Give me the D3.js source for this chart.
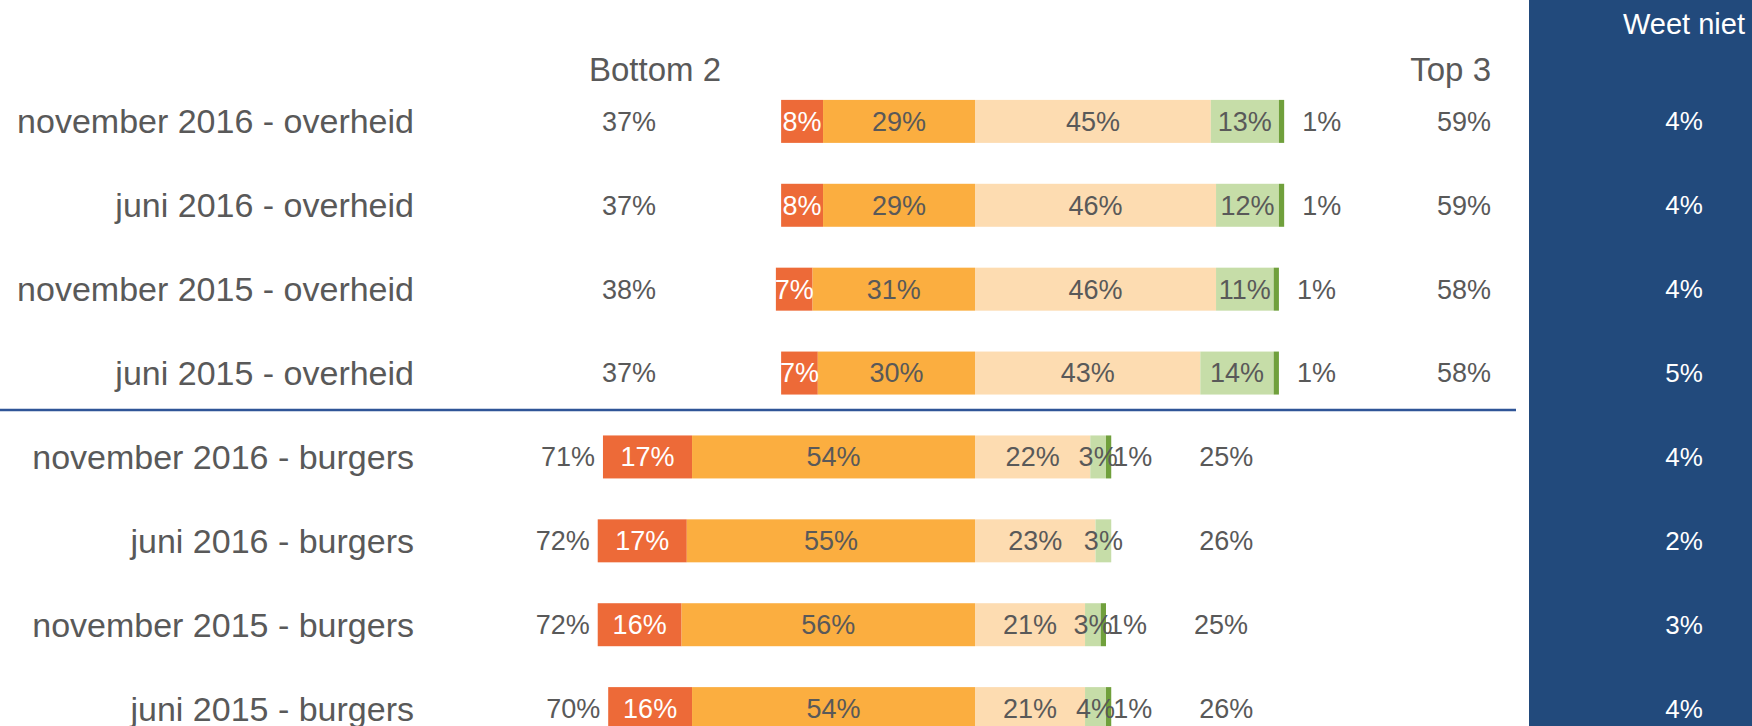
<!DOCTYPE html>
<html lang="nl">
<head>
    <meta charset="UTF-8">
    <title>Bottom 2 / Top 3</title>
    <script src="https://d3js.org/d3.v7.min.js"></script>
    <style>
        body { margin: 0; background: #fff; overflow: hidden; }
        text { font-family: "Liberation Sans", Arial, sans-serif; }
    </style>
</head>
<body>

<script>

    // Data ////////////////////////////////////
    var categories = [
        'november 2016 - overheid',
        'juni 2016 - overheid',
        'november 2015 - overheid',
        'juni 2015 - overheid',
        'november 2016 - burgers',
        'juni 2016 - burgers',
        'november 2015 - burgers',
        'juni 2015 - burgers'
    ];
    var score1 = [8, 8, 7, 7, 17, 17, 16, 16];
    var score2 = [29, 29, 31, 30, 54, 55, 56, 54];
    var score3 = [45, 46, 46, 43, 22, 23, 21, 21];
    var score4 = [13, 12, 11, 14, 3, 3, 3, 4];
    var score5 = [1, 1, 1, 1, 1, 0, 1, 1];
    var bottom2 = [37, 37, 38, 37, 71, 72, 72, 70];
    var top3 = [59, 59, 58, 58, 25, 26, 25, 26];
    var weetNiet = [4, 4, 4, 5, 4, 2, 3, 4];

    var seriesColors = ['#ed6a38', '#fbae40', '#fddcb1', '#c6dda8', '#70a03c'];
    var textGray = '#595959';

    //________________________________________________
    // DOM preparation
    //________________________________________________
    var width = 1752;
    var height = 726;

    var svg = d3.select('body').append('svg')
            .attr('width', width)
            .attr('height', height);

    var x = d3.scaleLinear().domain([-100, 100]).range([451, 1499]);
    var y = d3.scaleBand().domain(categories).range([59, 771])
            .paddingInner(0.4875).paddingOuter(0.4875);
    var bandH = y.bandwidth();

    // one record per row, with stacked segments around the 0 line
    var rows = categories.map(function (c, i) {
        var vals = [score1[i], score2[i], score3[i], score4[i], score5[i]];
        var start = -(vals[0] + vals[1]);
        var segs = vals.map(function (v, k) {
            var s = {k: k, v: v, x0: start, x1: start + v};
            start += v;
            return s;
        });
        return {
            cat: c, i: i, segs: segs,
            group: c.indexOf('overheid') >= 0 ? 'overheid' : 'burgers',
            bottom: bottom2[i], top: top3[i], end: start
        };
    });

    //________________________________________________
    // "Weet niet" panel
    //________________________________________________
    svg.append('rect')
            .attr('x', 1529).attr('y', 0)
            .attr('width', width - 1529).attr('height', height)
            .style('fill', '#224a7c');

    svg.append('text')
            .attr('x', 1684).attr('y', 34)
            .style('text-anchor', 'middle')
            .style('font-size', '29px')
            .style('fill', '#fff')
            .text('Weet niet');

    svg.selectAll('text.weet')
            .data(rows)
            .enter().append('text')
            .attr('class', 'weet')
            .attr('x', 1684)
            .attr('y', function (d) { return y(d.cat) + bandH / 2; })
            .attr('dy', '0.35em')
            .style('text-anchor', 'middle')
            .style('font-size', '26px')
            .style('fill', '#fff')
            .text(function (d) { return weetNiet[d.i] + '%'; });

    //________________________________________________
    // Headers
    //________________________________________________
    svg.append('text')
            .attr('x', 655).attr('y', 81)
            .style('text-anchor', 'middle')
            .style('font-size', '33px')
            .style('fill', textGray)
            .text('Bottom 2');

    svg.append('text')
            .attr('x', 1491).attr('y', 81)
            .style('text-anchor', 'end')
            .style('font-size', '33px')
            .style('fill', textGray)
            .text('Top 3');

    // separator between the two groups
    var sepY = y(categories[4]) - y.step() * y.paddingInner() / 2 - 5;
    svg.append('line')
            .attr('x1', 0).attr('x2', 1516)
            .attr('y1', sepY).attr('y2', sepY)
            .style('stroke', '#2f5597')
            .style('stroke-width', 2.5);

    //________________________________________________
    // Rows
    //________________________________________________
    var row = svg.selectAll('g.row')
            .data(rows)
            .enter().append('g')
            .attr('class', 'row')
            .attr('transform', function (d) { return 'translate(0,' + y(d.cat) + ')'; });

    // Category label
    row.append('text')
            .attr('x', 414)
            .attr('y', bandH / 2)
            .attr('dy', '0.35em')
            .style('text-anchor', 'end')
            .style('font-size', '34px')
            .style('fill', textGray)
            .text(function (d) { return d.cat; });

    // Bars
    row.selectAll('rect.seg')
            .data(function (d) { return d.segs.filter(function (s) { return s.v > 0; }); })
            .enter().append('rect')
            .attr('class', 'seg')
            .attr('x', function (s) { return x(s.x0); })
            .attr('width', function (s) { return x(s.x1) - x(s.x0); })
            .attr('y', 0)
            .attr('height', bandH)
            .style('fill', function (s) { return seriesColors[s.k]; });

    // Segment labels
    row.each(function (d) {
        var g = d3.select(this);
        d.segs.forEach(function (s) {
            if (s.v <= 0) return;
            var isLast = s.k === 4;
            var lx = isLast
                    ? x(s.x1) + (d.group === 'overheid' ? 18 : 2)
                    : (x(s.x0) + x(s.x1)) / 2;
            g.append('text')
                    .attr('x', lx)
                    .attr('y', bandH / 2)
                    .attr('dy', '0.35em')
                    .style('text-anchor', isLast ? 'start' : 'middle')
                    .style('font-size', '27px')
                    .style('fill', s.k === 0 ? '#fff' : textGray)
                    .text(s.v + '%');
        });

        // Bottom 2
        g.append('text')
                .attr('x', Math.min(656, x(-d.bottom) - 8))
                .attr('y', bandH / 2)
                .attr('dy', '0.35em')
                .style('text-anchor', 'end')
                .style('font-size', '27px')
                .style('fill', textGray)
                .text(d.bottom + '%');

        // Top 3
        var overheid = d.group === 'overheid';
        g.append('text')
                .attr('x', overheid ? 1491 : x(d.end) + 88)
                .attr('y', bandH / 2)
                .attr('dy', '0.35em')
                .style('text-anchor', overheid ? 'end' : 'start')
                .style('font-size', '27px')
                .style('fill', textGray)
                .text(d.top + '%');
    });

</script>

</body>
</html>
